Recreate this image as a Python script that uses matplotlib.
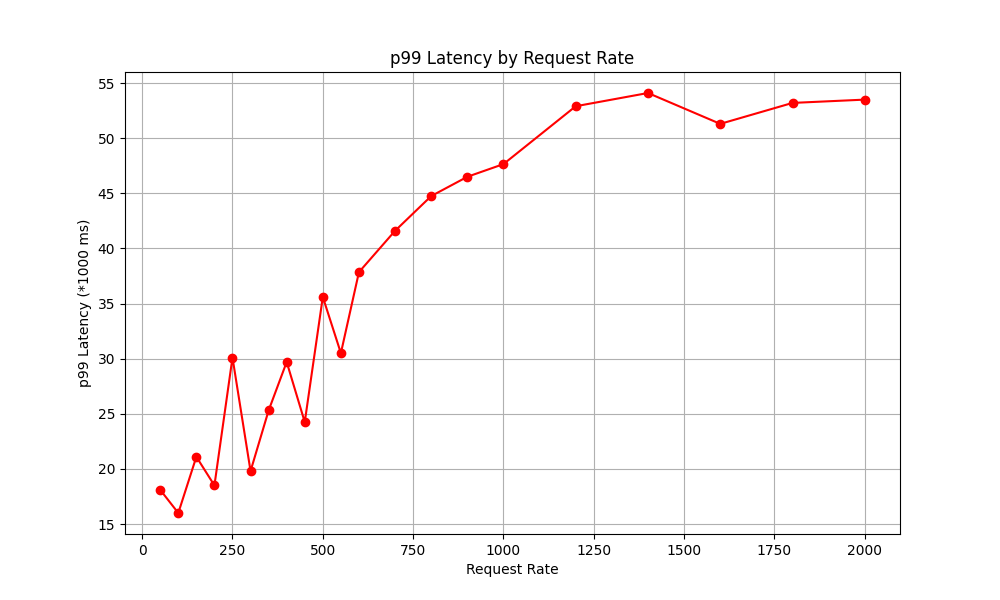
import matplotlib
matplotlib.use("Agg")
import matplotlib.pyplot as plt

rates = [50, 100, 150, 200, 250, 300, 350, 400, 450, 500, 550, 600,
         700, 800, 900, 1000, 1200, 1400, 1600, 1800, 2000]
p99 = [18.1, 16.0, 21.1, 18.5, 30.1, 19.8, 25.3, 29.7, 24.25, 35.6, 30.5, 37.85,
       41.6, 44.75, 46.5, 47.65, 52.9, 54.1, 51.3, 53.2, 53.5]

fig, ax = plt.subplots(figsize=(10, 6), dpi=100)
ax.plot(rates, p99, color="red", marker="o")

ax.set_title("p99 Latency by Request Rate")
ax.set_xlabel("Request Rate")
ax.set_ylabel("p99 Latency (*1000 ms)")
ax.grid(True)

fig.savefig("out.png")
